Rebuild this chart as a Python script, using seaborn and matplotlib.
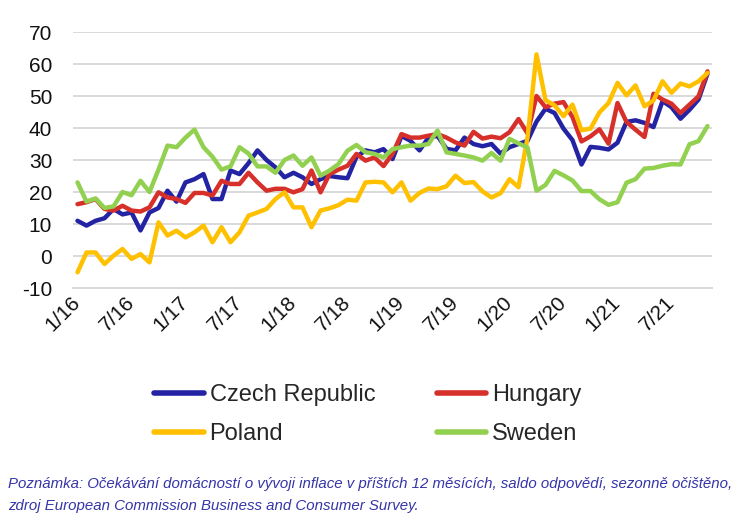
import numpy as np
import pandas as pd
import seaborn as sns
import matplotlib.pyplot as plt
from matplotlib.lines import Line2D

# monthly values, Jan 2016 - Nov 2021
czech = [11, 9.5, 11, 11.8, 14.7, 13, 13.6, 8, 13.6, 15, 20.4, 17, 23, 24, 25.6, 17.8, 17.8, 26.7,
         25.6, 29, 33, 30, 27.7, 24.6, 26, 24.6, 22.5, 24, 25, 24.6, 24.3, 31, 33, 32.4, 33.4, 30.3,
         37.5, 36, 33, 37, 37.5, 33.5, 33, 37, 35, 34.3, 35, 32, 34, 35, 36, 42, 46, 44.7, 39.8,
         36.2, 28.6, 34.1, 33.8, 33.3, 35.4, 41.9, 42.4, 41.6, 40.3, 48.4, 46.5, 42.9, 45.7, 48.9, 57]
hungary = [16.2, 16.8, 17.8, 14.7, 14.2, 15.7, 14.2, 13.9, 15.2, 19.9, 18.3, 17.8, 16.6, 19.7, 19.7,
           18.9, 23.5, 22.5, 22.5, 26, 23, 20.4, 21, 21, 19.9, 20.9, 26.7, 19.9, 25.6, 27, 28.2, 31.9,
           29.8, 30.8, 28.1, 31.9, 38.1, 37, 37, 37.6, 38.1, 37, 35.5, 34.5, 38.8, 36.7, 37.3, 36.8,
           38.7, 42.8, 38.3, 50, 46.5, 47.6, 48.1, 43.4, 35.8, 37.4, 39.6, 35.1, 47.8, 41.9, 39.5,
           37.2, 50.7, 48.9, 47.6, 44.7, 47.3, 49.9, 57.7]
poland = [-5.1, 1.1, 1.1, -2.5, 0.1, 2.2, -0.9, 0.6, -2, 10.5, 6.4, 7.9, 5.8, 7.4, 9.5, 4.3, 9, 4.3,
          7.4, 12.6, 13.6, 14.7, 17.8, 19.9, 15.2, 15.2, 9, 14.2, 14.9, 15.9, 17.6, 17.3, 23, 23.2, 23,
          19.9, 23, 17.3, 19.7, 21.1, 20.9, 21.8, 25.1, 22.8, 23.1, 20.2, 18.3, 19.6, 24, 21.5, 37, 63,
          48.7, 47.1, 43.7, 47.3, 39.3, 39.8, 44.9, 47.8, 54.1, 50.2, 53.3, 46.8, 48.6, 54.6, 51,
          53.9, 53, 54.6, 57.2]
sweden = [23, 17, 18, 15, 15.5, 20, 19, 23.5, 20, 27, 34.5, 34, 37, 39.5, 34, 31, 27, 28, 34, 32, 28,
          28, 26, 30, 31.4, 28.2, 30.8, 25.1, 26.7, 28.75, 32.9, 34.7, 32.4, 31.9, 30.8, 33.4, 34,
          34.5, 34.5, 35, 39.2, 32.4, 31.9, 31.4, 30.8, 29.8, 32.2, 29.8, 36.6, 35.2, 33.9, 20.4, 22.2,
          26.6, 25.2, 23.6, 20.3, 20.3, 17.7, 16, 16.8, 22.9, 24, 27.3, 27.5, 28.2, 28.7, 28.6, 34.9,
          35.9, 40.6]

countries = ['Czech Republic', 'Hungary', 'Poland', 'Sweden']
colors = ['#2323a3', '#d7302a', '#ffc000', '#92d050']
tick_labels = ['1/16', '7/16', '1/17', '7/17', '1/18', '7/18', '1/19', '7/19', '1/20', '7/20', '1/21', '7/21']
note = ('Poznámka: Očekávání domácností o vývoji inflace v příštích 12 měsících, saldo odpovědí, '
        'sezonně očištěno,\nzdroj European Commission Business and Consumer Survey.')

n = len(czech)
df = pd.DataFrame({'month': np.arange(n), 'Czech Republic': czech, 'Hungary': hungary,
                   'Poland': poland, 'Sweden': sweden})
long_df = df.melt(id_vars='month', var_name='country', value_name='value')

sns.set_style('white')
plt.rcParams['font.family'] = ['Liberation Sans', 'DejaVu Sans']
plt.rcParams['axes.unicode_minus'] = False

fig = plt.figure(figsize=(7.43, 5.30), dpi=100)
ax = fig.add_axes([73 / 743, 1 - 288 / 530, 639 / 743, 256 / 530])

grid_c = '#d9d9d9'
ax.set_axisbelow(True)
ax.yaxis.grid(True, color=grid_c, linewidth=1.4)

sns.lineplot(data=long_df, x='month', y='value', hue='country', hue_order=countries,
             palette=colors, linewidth=3.2, legend=False, ax=ax)
for line in ax.lines:
    line.set_solid_joinstyle('round')
    line.set_solid_capstyle('round')

ax.set_xlim(-0.5, n - 0.5)
ax.set_ylim(-10, 70)
ax.set_yticks(range(-10, 71, 10))
ax.set_xlabel('')
ax.set_ylabel('')

ax.set_xticks(np.arange(0, n, 6))
ax.set_xticklabels(tick_labels, rotation=45, ha='right', va='center', rotation_mode='anchor')
ax.set_xticks(np.arange(-0.5, n - 1, 6), minor=True)
ax.tick_params(axis='x', which='major', length=0, pad=8, labelsize=15, labelcolor='#111111')
ax.tick_params(axis='x', which='minor', length=5, width=1.4, color=grid_c, direction='out')
ax.tick_params(axis='y', length=0, pad=15, labelsize=15, labelcolor='#111111')

for s in ['left', 'top', 'right']:
    ax.spines[s].set_visible(False)
ax.spines['bottom'].set_color(grid_c)
ax.spines['bottom'].set_linewidth(1.4)

# legend: row-wise order Czech/Hungary, Poland/Sweden
order = [0, 2, 1, 3]
handles = [Line2D([], [], color=colors[k], linewidth=4, solid_capstyle='round') for k in order]
fig.legend(handles, [countries[k] for k in order], ncol=2, loc='center',
           bbox_to_anchor=(0.495, 0.217), frameon=False, fontsize=17,
           handlelength=2.1, handletextpad=0.25, columnspacing=2.6, labelspacing=0.72)

fig.text(8 / 743, 1 - 477 / 530, note, fontsize=10.8, style='italic', color='#3535a8',
         va='top', ha='left', linespacing=1.75)

fig.savefig('out.png', dpi=100)
